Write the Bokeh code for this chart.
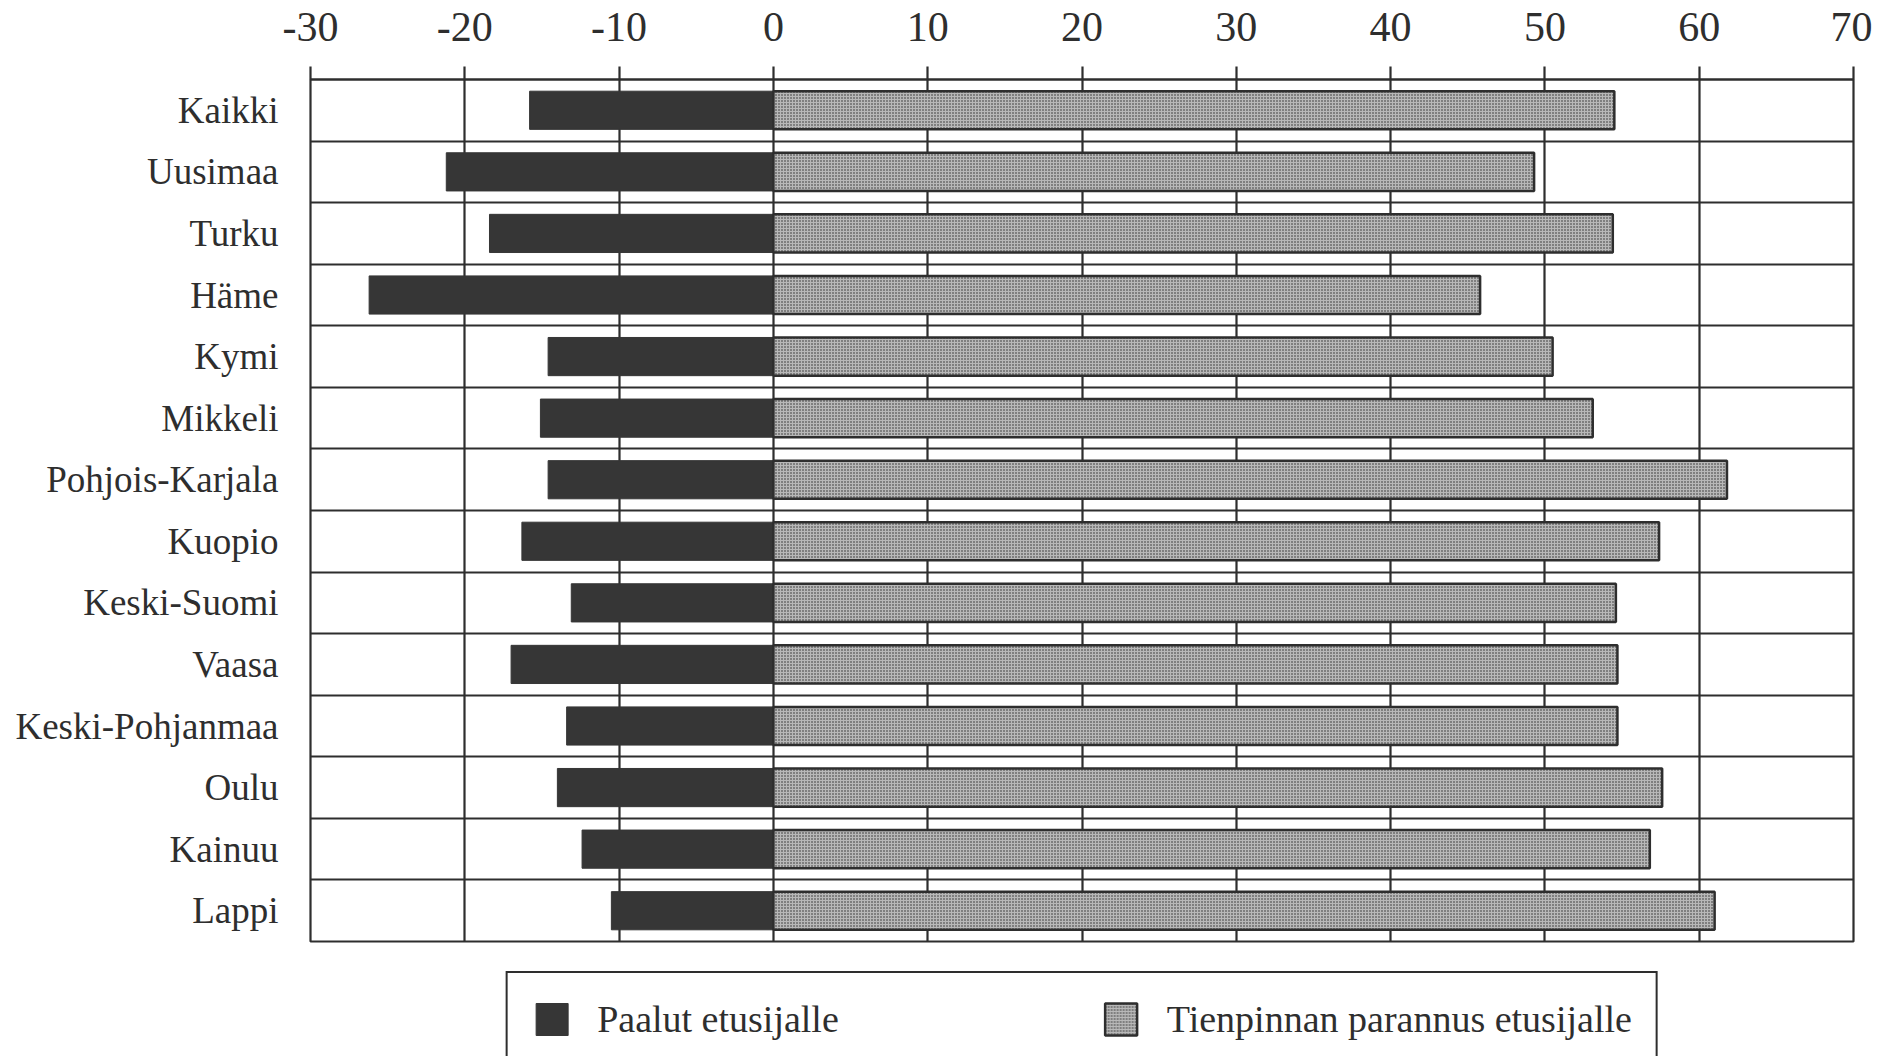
from bokeh.plotting import figure
from bokeh.models import FixedTicker, ColumnDataSource, Legend, LegendItem, Range1d
from bokeh.embed import file_html
from bokeh.resources import INLINE

categories = ["Kaikki", "Uusimaa", "Turku", "Häme", "Kymi", "Mikkeli", "Pohjois-Karjala",
              "Kuopio", "Keski-Suomi", "Vaasa", "Keski-Pohjanmaa", "Oulu", "Kainuu", "Lappi"]
paalut = [-15.8, -21.2, -18.4, -26.2, -14.6, -15.1, -14.6, -16.3, -13.1, -17.0, -13.4, -14.0, -12.4, -10.5]
tienpinta = [54.5, 49.3, 54.4, 45.8, 50.5, 53.1, 61.8, 57.4, 54.6, 54.7, 54.7, 57.6, 56.8, 61.0]
x_ticks = [-30, -20, -10, 0, 10, 20, 30, 40, 50, 60, 70]
x_tick_labels = ["-30", "-20", "-10", "0", "10", "20", "30", "40", "50", "60", "70"]
series_names = ["Paalut etusijalle", "Tienpinnan parannus etusijalle"]

n = len(categories)
ypos = [n - i - 0.5 for i in range(n)]
src = ColumnDataSource(dict(y=ypos, neg=paalut, pos=tienpinta, zero=[0] * n))

FONT = "Liberation Serif"
INK = "#2e2e2e"
LW = 2.2

p = figure(width=1872, height=1050, output_backend="svg", toolbar_location=None,
           x_range=Range1d(-30, 70), y_range=Range1d(0, n),
           x_axis_location="above", frame_width=1543, frame_height=862,
           min_border_left=310, min_border_top=79, min_border_right=19, min_border_bottom=109)
p.background_fill_color = "white"
p.border_fill_color = "white"
p.outline_line_color = INK
p.outline_line_width = LW

r1 = p.hbar(y="y", left="neg", right="zero", height=0.62, source=src,
            fill_color="#363636", line_color="#363636", line_width=1)
r2 = p.hbar(y="y", left="zero", right="pos", height=0.62, source=src,
            fill_color="#b8b8b8", line_color=INK, line_width=2.5,
            hatch_pattern="dot", hatch_scale=3, hatch_color="#2a2a2a", hatch_weight=2)

xa = p.xaxis[0]
xa.ticker = FixedTicker(ticks=x_ticks)
xa.major_label_overrides = {t: s for t, s in zip(x_ticks, x_tick_labels)}
xa.axis_line_color = INK
xa.axis_line_width = LW
xa.major_tick_line_color = INK
xa.major_tick_line_width = LW
xa.major_tick_out = 13
xa.major_tick_in = 0
xa.minor_tick_line_color = None
xa.major_label_text_font = FONT
xa.major_label_text_font_size = "42px"
xa.major_label_text_color = INK
xa.major_label_standoff = 26

ya = p.yaxis[0]
ya.ticker = FixedTicker(ticks=ypos)
ya.major_label_overrides = {y: c for y, c in zip(ypos, categories)}
ya.axis_line_color = None
ya.major_tick_line_color = None
ya.minor_tick_line_color = None
ya.major_label_text_font = FONT
ya.major_label_text_font_size = "37px"
ya.major_label_text_color = INK
ya.major_label_standoff = 26

p.xgrid.ticker = FixedTicker(ticks=x_ticks)
p.xgrid.grid_line_color = INK
p.xgrid.grid_line_width = LW
p.ygrid.ticker = FixedTicker(ticks=list(range(n + 1)))
p.ygrid.grid_line_color = INK
p.ygrid.grid_line_width = LW

legend = Legend(items=[LegendItem(label=series_names[0], renderers=[r1]),
                       LegendItem(label=series_names[1], renderers=[r2])],
                orientation="horizontal", location="top_center",
                glyph_width=40, glyph_height=40, label_standoff=26, spacing=262,
                padding=24, margin=30,
                label_text_font=FONT, label_text_font_size="38px", label_text_color=INK,
                border_line_color=INK, border_line_width=LW, border_line_alpha=1,
                background_fill_color="white", background_fill_alpha=1)
p.add_layout(legend, "below")

open("out.html", "w").write(file_html(p, INLINE))
